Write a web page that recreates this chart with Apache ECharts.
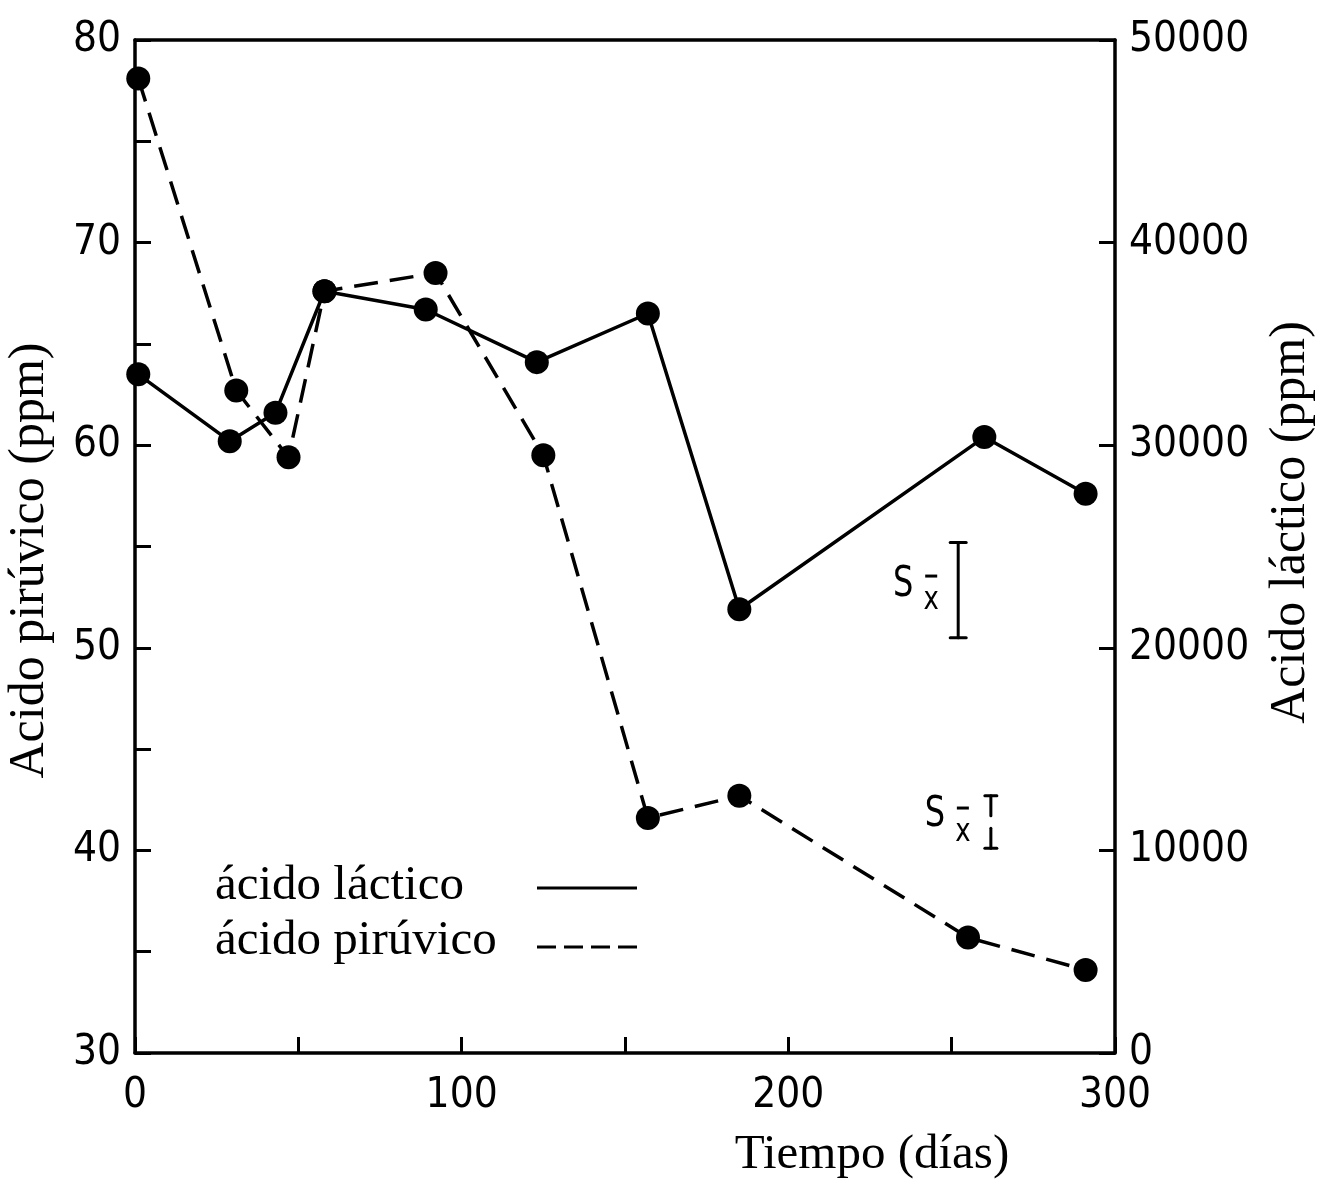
<!DOCTYPE html>
<html>
<head>
<meta charset="utf-8">
<script src="https://cdn.jsdelivr.net/npm/echarts@6/dist/echarts.min.js"></script>
<style>
  html, body { margin: 0; padding: 0; background: #fff; }
  #chart { width: 1318px; height: 1183px; }
</style>
</head>
<body>
<div id="chart"></div>
<script>
// Lactic acid (right axis, ppm) against storage time in days
const lacticDays = [1, 29, 43, 58, 89, 123, 157, 185, 260, 291];
const lacticPpm = [33500, 30200, 31600, 37600, 36700, 34100, 36500, 21900, 30400, 27600];

// Pyruvic acid (left axis, ppm) against storage time in days
const pyruvicDays = [1, 31, 47, 58, 92, 125, 157, 185, 255, 291];
const pyruvicPpm = [78.1, 62.7, 59.4, 67.6, 68.5, 59.5, 41.6, 42.7, 35.7, 34.1];

// Standard error bars: [day, low, high]
const lacticSE = [[252, 20500, 25200]];
const pyruvicSE = [[262, 40.1, 42.7]];

// Axis ranges and ticks
const xRange = [0, 300], xStep = 50, xLabelStep = 100;
const leftRange = [30, 80], leftStep = 5, leftLabelStep = 10;
const rightRange = [0, 50000], rightStep = 10000;

const legendNames = ['ácido láctico', 'ácido pirúvico'];

const INK = '#000';
const LW = 3.5;
const TICK_FONT = '"DejaVu Sans Condensed", "DejaVu Sans", sans-serif';
const SERIF = '"Liberation Serif", "Times New Roman", serif';

const chart = echarts.init(document.getElementById('chart'), null, { renderer: 'canvas' });

function seBar(broken, sOff) {
  return function (params, api) {
    const x = api.value(0);
    const top = api.coord([x, api.value(2)]);
    const bot = api.coord([x, api.value(1)]);
    const cx = top[0];
    const mid = (top[1] + bot[1]) / 2;
    const h = bot[1] - top[1];
    const cap = broken ? 6 : 8;
    const lineStyle = { stroke: INK, lineWidth: 3, lineCap: 'round' };
    const children = [];
    if (broken) {
      children.push({ type: 'line', shape: { x1: cx, y1: top[1], x2: cx, y2: top[1] + h * 0.38 }, style: lineStyle });
      children.push({ type: 'line', shape: { x1: cx, y1: top[1] + h * 0.62, x2: cx, y2: bot[1] }, style: lineStyle });
    } else {
      children.push({ type: 'line', shape: { x1: cx, y1: top[1], x2: cx, y2: bot[1] }, style: lineStyle });
    }
    children.push({ type: 'line', shape: { x1: cx - cap, y1: top[1], x2: cx + cap, y2: top[1] }, style: lineStyle });
    children.push({ type: 'line', shape: { x1: cx - cap, y1: bot[1], x2: cx + cap, y2: bot[1] }, style: lineStyle });
    // "S" with x-bar subscript
    children.push({
      type: 'text', x: cx + sOff[0], y: mid + sOff[1], scaleX: 0.85,
      style: { text: 'S', font: '400 42px ' + TICK_FONT, fill: INK, align: 'center', verticalAlign: 'middle' }
    });
    children.push({
      type: 'text', x: cx + sOff[2], y: mid + sOff[3], scaleX: 0.9,
      style: { text: 'x', font: '400 32px ' + TICK_FONT, fill: INK, align: 'center', verticalAlign: 'middle' }
    });
    children.push({
      type: 'line',
      shape: { x1: cx + sOff[2] - 6, y1: mid + sOff[3] - 25, x2: cx + sOff[2] + 6, y2: mid + sOff[3] - 25 },
      style: { stroke: INK, lineWidth: 3 }
    });
    return { type: 'group', children };
  };
}

const axisLineStyle = { show: true, onZero: false, lineStyle: { color: INK, width: LW } };
const tickStyle = { show: true, inside: true, length: 16, lineStyle: { color: INK, width: 3 } };

const option = {
  backgroundColor: '#fff',
  animation: false,
  grid: { left: 135, right: 203, top: 40, bottom: 130, containLabel: false, outerBoundsMode: 'none' },
  xAxis: [
    {
      type: 'value', min: xRange[0], max: xRange[1], interval: xStep,
      position: 'bottom',
      name: 'Tiempo (días)', nameLocation: 'middle', nameGap: 78, nameMoveOverlap: false,
      nameTextStyle: { fontFamily: SERIF, fontSize: 49, color: INK, padding: [0, 0, 0, 494] },
      axisLine: axisLineStyle,
      axisTick: tickStyle,
      axisLabel: {
        margin: 22, fontFamily: TICK_FONT, fontSize: 42, color: INK,
        formatter: v => (v % xLabelStep === 0 ? String(v) : '')
      },
      splitLine: { show: false }
    },
    {
      type: 'value', min: xRange[0], max: xRange[1], position: 'top',
      axisLine: axisLineStyle,
      axisTick: { show: false }, axisLabel: { show: false }, splitLine: { show: false }
    }
  ],
  yAxis: [
    {
      type: 'value', min: leftRange[0], max: leftRange[1], interval: leftStep,
      position: 'left',
      name: 'Acido pirúvico (ppm)', nameLocation: 'middle', nameGap: 80, nameRotate: 90, nameMoveOverlap: false,
      nameTextStyle: { fontFamily: SERIF, fontSize: 50, color: INK, padding: [0, 28, 0, 0] },
      axisLine: axisLineStyle,
      axisTick: tickStyle,
      axisLabel: {
        margin: 14, fontFamily: TICK_FONT, fontSize: 42, color: INK,
        formatter: v => (v % leftLabelStep === 0 ? String(v) : '')
      },
      splitLine: { show: false }
    },
    {
      type: 'value', min: rightRange[0], max: rightRange[1], interval: rightStep,
      position: 'right',
      name: 'Acido láctico (ppm)', nameLocation: 'middle', nameGap: 151, nameRotate: 90, nameMoveOverlap: false,
      nameTextStyle: { fontFamily: SERIF, fontSize: 50, color: INK, padding: [0, 0, 0, 48] },
      axisLine: axisLineStyle,
      axisTick: tickStyle,
      axisLabel: { margin: 14, fontFamily: TICK_FONT, fontSize: 42, color: INK, formatter: v => String(v) },
      splitLine: { show: false }
    }
  ],
  series: [
    {
      name: legendNames[0], type: 'line', yAxisIndex: 1,
      data: lacticDays.map((d, i) => [d, lacticPpm[i]]),
      symbol: 'circle', symbolSize: 24,
      itemStyle: { color: INK },
      lineStyle: { color: INK, width: LW, type: 'solid' },
      z: 3
    },
    {
      name: legendNames[1], type: 'line', yAxisIndex: 0,
      data: pyruvicDays.map((d, i) => [d, pyruvicPpm[i]]),
      symbol: 'circle', symbolSize: 24,
      itemStyle: { color: INK },
      lineStyle: { color: INK, width: LW, type: [24, 12] },
      z: 3
    },
    {
      type: 'custom', yAxisIndex: 1, data: lacticSE,
      renderItem: seBar(false, [-55, -5, -27, 11]), z: 4
    },
    {
      type: 'custom', yAxisIndex: 0, data: pyruvicSE,
      renderItem: seBar(true, [-56, -7, -28, 11]), z: 4
    }
  ],
  graphic: [
    {
      type: 'group', left: 215, top: 862,
      children: [
        { type: 'text', x: 0, y: 0, style: { text: legendNames[0], font: '49px ' + SERIF, fill: INK } },
        { type: 'text', x: 0, y: 55, style: { text: legendNames[1], font: '49px ' + SERIF, fill: INK } },
        { type: 'line', shape: { x1: 322, y1: 26, x2: 422, y2: 26 }, style: { stroke: INK, lineWidth: 3 } },
        { type: 'line', shape: { x1: 322, y1: 85, x2: 422, y2: 85 }, style: { stroke: INK, lineWidth: 3, lineDash: [19, 8] } }
      ]
    }
  ]
};

chart.setOption(option);
</script>
</body>
</html>
